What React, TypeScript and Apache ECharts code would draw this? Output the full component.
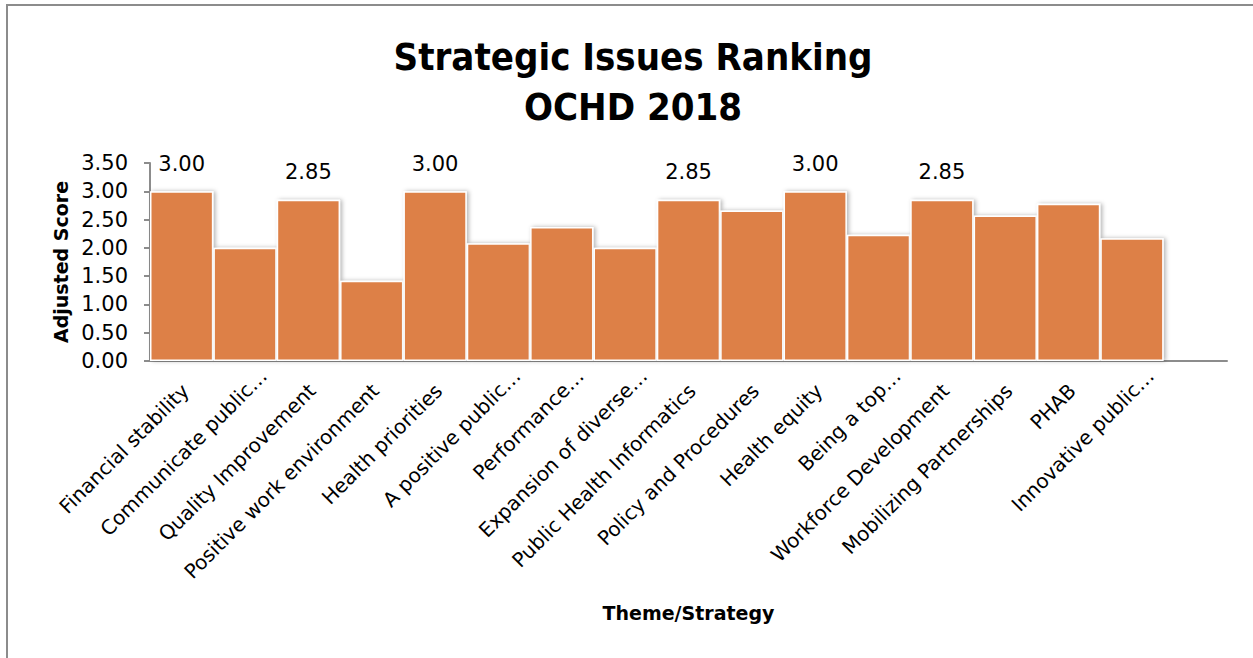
import React, { useEffect, useRef } from "react";
import * as echarts from "echarts";

const categories = [
  "Financial stability",
  "Communicate public…",
  "Quality Improvement",
  "Positive work environment",
  "Health priorities",
  "A positive public…",
  "Performance…",
  "Expansion of diverse…",
  "Public Health Informatics",
  "Policy and Procedures",
  "Health equity",
  "Being a top…",
  "Workforce Development",
  "Mobilizing Partnerships",
  "PHAB",
  "Innovative public…",
  "",
];

const scores = [3.0, 2.0, 2.85, 1.42, 3.0, 2.08, 2.37, 2.0, 2.85, 2.66, 3.0, 2.23, 2.85, 2.57, 2.78, 2.17];

const yTicks = [0, 0.5, 1, 1.5, 2, 2.5, 3, 3.5];

const labeledValues = [3.0, 2.85];

const BODY_FONT = '"DejaVu Sans", "Open Sans", sans-serif';
const TITLE_FONT = '"Liberation Sans Narrow", "DejaVu Sans Condensed", sans-serif';

export default function App() {
  const ref = useRef<HTMLDivElement>(null);

  useEffect(() => {
    if (!ref.current) return;
    const chart = echarts.init(ref.current, undefined, { renderer: "svg" });

    const barData = categories.map((c, i) => {
      if (i >= scores.length) return "-";
      const v = scores[i];
      return {
        value: v,
        label: { show: labeledValues.includes(v) },
      };
    });

    const labelData = categories.map((c) => {
      const isEllipsis = c.endsWith("…");
      return isEllipsis || c === ""
        ? { value: c }
        : { value: c, textStyle: { padding: [13, 21, 0, 0] } };
    });

    chart.setOption({
      animation: false,
      backgroundColor: "#ffffff",
      title: {
        text: "Strategic Issues Ranking\nOCHD 2018",
        left: 628,
        textAlign: "center",
        top: 27,
        textStyle: {
          fontFamily: TITLE_FONT,
          fontWeight: "bold",
          fontSize: 38,
          lineHeight: 50,
          color: "#000000",
        },
      },
      grid: [
        { left: 150, right: 26, top: 163, bottom: 297, outerBoundsMode: "none" },
        { left: 168.5, right: 7.5, top: 163, bottom: 297, outerBoundsMode: "none" },
      ],
      xAxis: [
        {
          type: "category",
          gridIndex: 0,
          data: categories,
          axisLine: { lineStyle: { color: "#8c8c8c", width: 2 } },
          axisTick: { show: false },
          axisLabel: { show: false },
          name: "Theme/Strategy",
          nameLocation: "middle",
          nameGap: 242,
          nameTextStyle: {
            fontFamily: BODY_FONT,
            fontWeight: "bold",
            fontSize: 19,
            color: "#000000",
          },
        },
        {
          type: "category",
          gridIndex: 1,
          data: labelData,
          axisLine: { show: false },
          axisTick: { show: false },
          axisLabel: {
            interval: 0,
            rotate: 45,
            margin: 11.5,
            fontFamily: BODY_FONT,
            fontSize: 20,
            color: "#000000",
          },
        },
      ],
      yAxis: [
        {
          type: "value",
          gridIndex: 0,
          min: yTicks[0],
          max: yTicks[yTicks.length - 1],
          interval: 0.5,
          splitLine: { show: false },
          axisLine: { show: true, lineStyle: { color: "#8c8c8c", width: 2 } },
          axisTick: { show: true, length: 6, lineStyle: { color: "#8c8c8c", width: 2 } },
          axisLabel: {
            formatter: (v: number) => v.toFixed(2),
            fontFamily: BODY_FONT,
            fontSize: 21,
            color: "#000000",
            margin: 22,
          },
          name: "Adjusted Score",
          nameLocation: "middle",
          nameGap: 80,
          nameTextStyle: {
            fontFamily: BODY_FONT,
            fontWeight: "bold",
            fontSize: 19,
            color: "#000000",
          },
        },
        {
          type: "value",
          gridIndex: 1,
          min: 0,
          max: 3.5,
          show: false,
        },
      ],
      series: [
        {
          type: "bar",
          xAxisIndex: 0,
          yAxisIndex: 0,
          data: barData,
          barCategoryGap: "0%",
          itemStyle: {
            color: "#DD8047",
            borderColor: "#ffffff",
            borderWidth: 1.5,
            shadowColor: "rgba(0,0,0,0.3)",
            shadowBlur: 4,
            shadowOffsetX: 2,
            shadowOffsetY: 0,
          },
          label: {
            position: "top",
            distance: 17,
            formatter: (p: any) => Number(p.value).toFixed(2),
            fontFamily: BODY_FONT,
            fontSize: 21,
            color: "#000000",
          },
        },
      ],
    });

    return () => chart.dispose();
  }, []);

  return (
    <div style={{ position: "fixed", left: 0, top: 0, width: 1253, height: 658, background: "#fff" }}>
      <div ref={ref} style={{ position: "absolute", left: 0, top: 0, width: 1253, height: 658 }} />
      <div
        style={{
          position: "absolute",
          left: 6,
          top: 4,
          width: 1260,
          height: 670,
          borderTop: "2px solid #8c8c8c",
          borderLeft: "2px solid #8c8c8c",
          pointerEvents: "none",
        }}
      />
    </div>
  );
}
